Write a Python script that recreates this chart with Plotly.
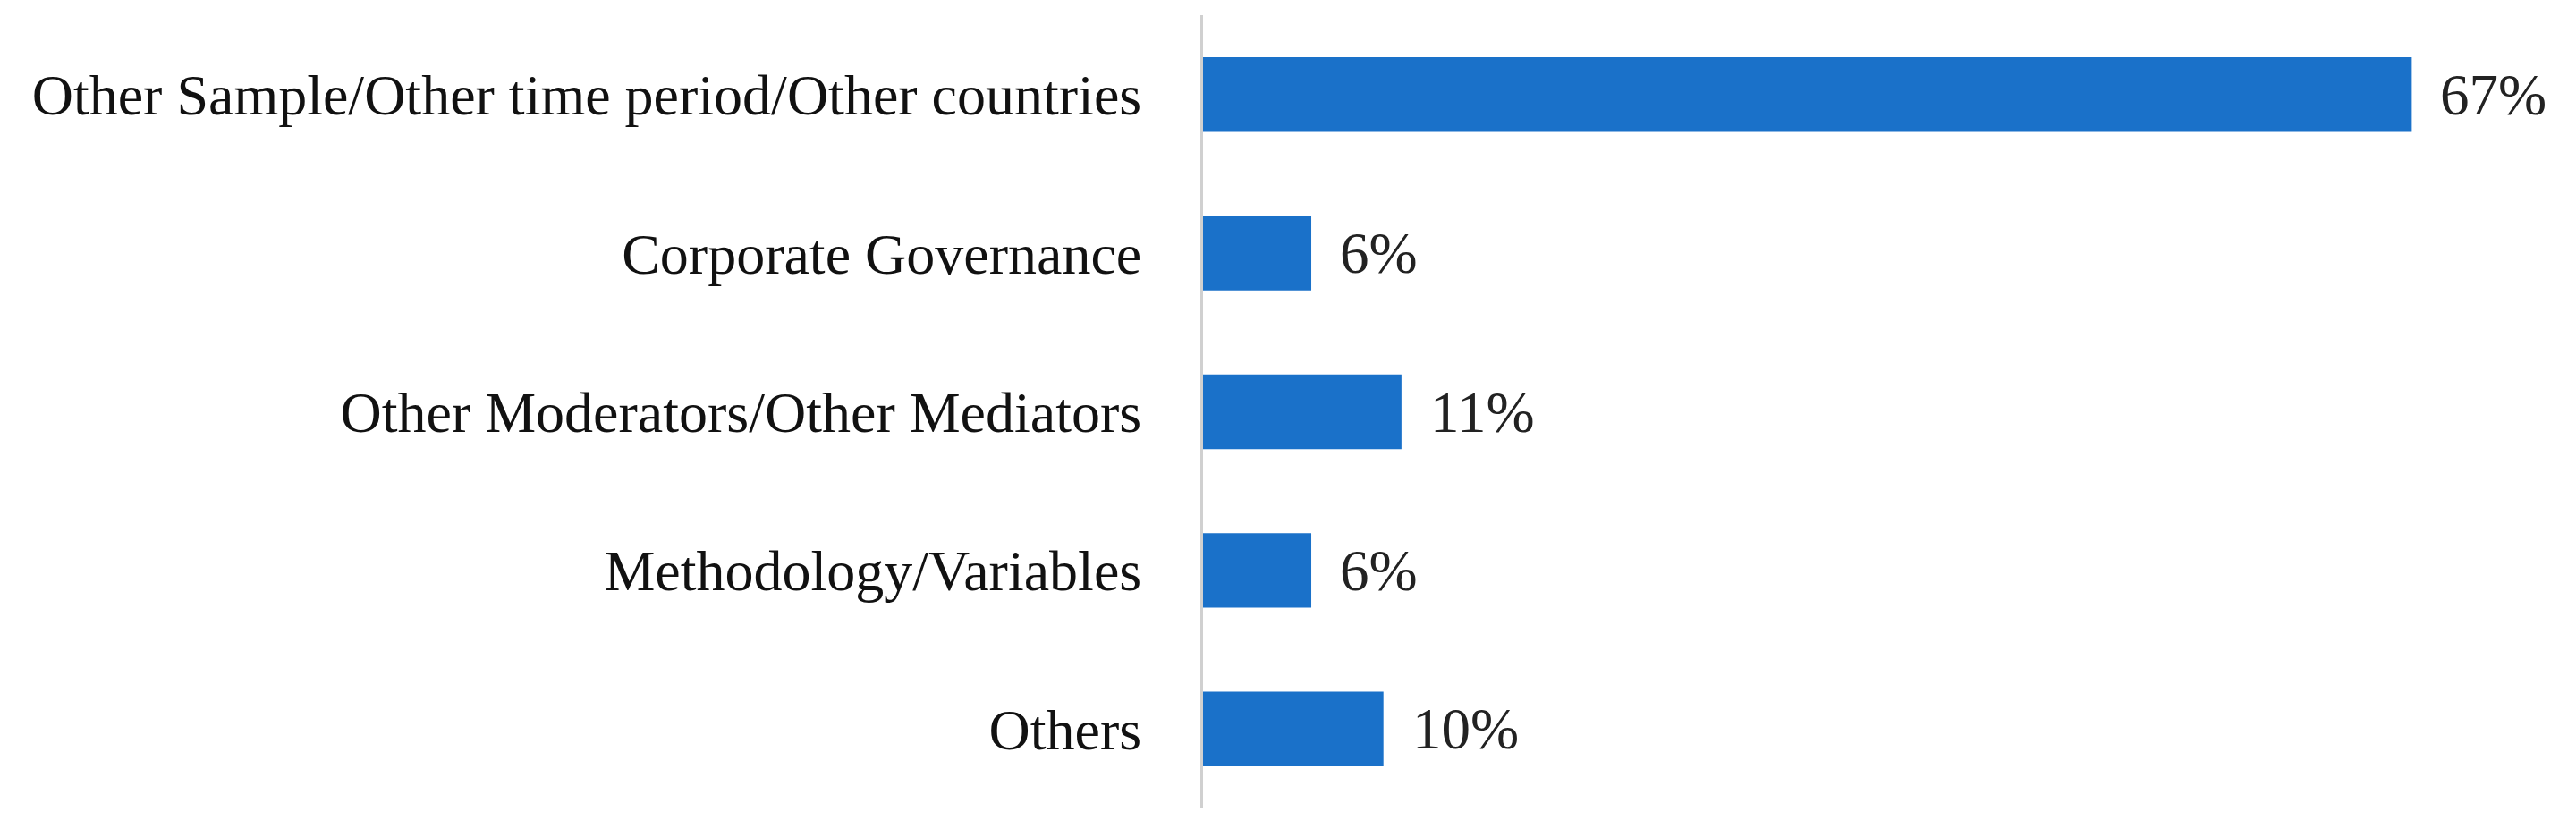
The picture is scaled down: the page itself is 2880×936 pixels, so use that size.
import plotly.graph_objects as go

# categories top -> bottom
categorias = [
    "Other Sample/Other time period/Other countries",
    "Corporate Governance",
    "Other Moderators/Other Mediators",
    "Methodology/Variables",
    "Others",
]
valores = [67, 6, 11, 6, 10]
rotulos = [f"{v}%" for v in valores]

fonte = "Liberation Serif"
azul = "#1A71C9"

fig = go.Figure()
fig.add_trace(go.Bar(
    x=valores,
    y=categorias,
    orientation="h",
    marker=dict(color=azul, line=dict(width=0)),
    hoverinfo="skip",
))

# value labels to the right of each bar
for v, c, t in zip(valores, categorias, rotulos):
    fig.add_annotation(
        x=v, y=c, text=t, showarrow=False,
        xanchor="left", yanchor="middle", xshift=30,
        font=dict(family=fonte, size=65, color="#222222"),
    )

fig.update_layout(
    width=2880,
    height=936,
    plot_bgcolor="white",
    paper_bgcolor="white",
    showlegend=False,
    bargap=0.53,
    margin=dict(l=1337, r=0, t=9, b=40, autoexpand=False),
    xaxis=dict(
        range=[0, 76.5],
        showgrid=False,
        zeroline=False,
        showline=False,
        showticklabels=False,
    ),
    yaxis=dict(
        categoryorder="array",
        categoryarray=categorias[::-1],
        showgrid=False,
        zeroline=False,
        showline=True,
        linecolor="#D0D0D0",
        linewidth=3,
        ticks="",
        ticklabelstandoff=53,
        tickfont=dict(family=fonte, size=64, color="#111111"),
    ),
)

fig.write_html("out.html")
